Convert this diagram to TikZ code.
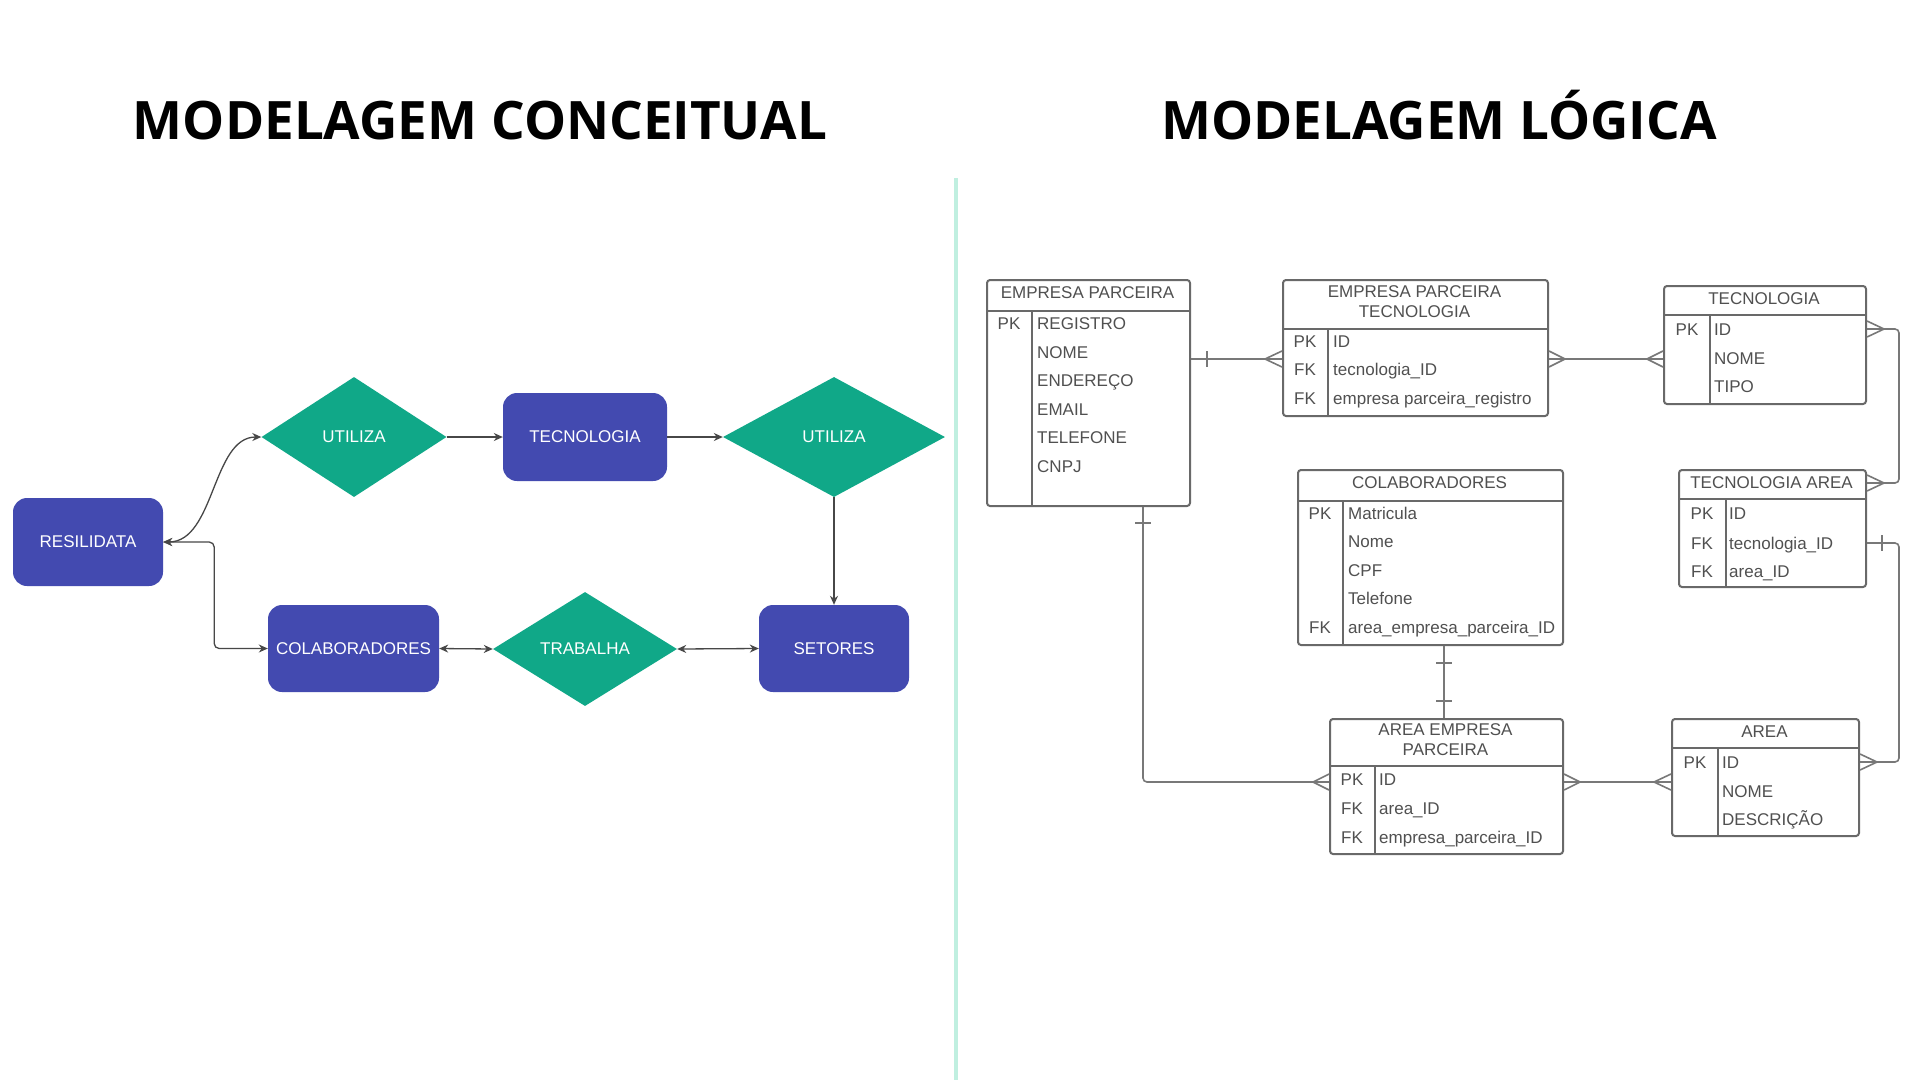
\documentclass[tikz,border=0pt]{standalone}
\usepackage{fontspec}
\setmainfont{Liberation Sans}
\newfontfamily\titlefont{Open Sans}
\usetikzlibrary{shapes.geometric,arrows.meta,calc}
\definecolor{ind}{RGB}{67,74,176}
\definecolor{tealg}{RGB}{16,168,136}
\definecolor{mint}{RGB}{192,239,224}
\definecolor{tgray}{RGB}{80,80,80}
\definecolor{lgray}{RGB}{105,105,105}
\definecolor{cgray}{RGB}{120,120,120}
\begin{document}
\begin{tikzpicture}[x=1pt,y=-1pt,
  title/.style={font=\titlefont\bfseries\fontsize{53}{60}\selectfont, text=black, inner sep=0pt, anchor=base},
  ent/.style={rectangle, rounded corners=14pt, fill=ind, text=white, font=\fontsize{17}{20}\selectfont, inner sep=0pt},
  rel/.style={diamond, fill=tealg, text=white, font=\fontsize{17}{20}\selectfont, inner sep=0pt},
  arr/.style={draw=black!72, line width=1.3pt, -{Stealth[length=9pt,width=8pt]}},
  arrb/.style={draw=black!72, line width=1.3pt, {Stealth[length=9pt,width=8pt]}-{Stealth[length=9pt,width=8pt]}},
  tbl/.style={draw=lgray, line width=2pt, rounded corners=3pt, inner sep=0pt, anchor=north west},
  tl/.style={draw=lgray, line width=2pt},
  th/.style={text=tgray, font=\fontsize{17}{20}\selectfont, inner sep=0pt, align=center, anchor=center},
  tk/.style={text=tgray, font=\fontsize{17}{20}\selectfont, inner sep=0pt, text height=12.2pt, text depth=0pt, anchor=center},
  tf/.style={text=tgray, font=\fontsize{17}{20}\selectfont, inner sep=0pt, text height=12.2pt, text depth=0pt, anchor=west},
  con/.style={draw=cgray, line width=1.6pt}
]
\useasboundingbox (0,0) rectangle (1920,1080);
\fill[white] (0,0) rectangle (1920,1080);

% titles
\node[title] (t1) at (480,139) {MODELAGEM CONCEITUAL};
\node[title] (t2) at (1439,139) {MODELAGEM LÓGICA};

% divider
\draw[mint, line width=4pt] (956,178) -- (956,1080);

% ---------------- conceptual model ----------------
\node[ent, minimum width=150pt, minimum height=88pt] (res) at (88,542) {RESILIDATA};
\node[rel, minimum width=185pt, minimum height=120pt] (ut1) at (354,437) {UTILIZA};
\node[ent, minimum width=164pt, minimum height=88pt] (tec) at (585,437) {TECNOLOGIA};
\node[rel, minimum width=222pt, minimum height=120pt] (ut2) at (834,437) {UTILIZA};
\node[ent, minimum width=171pt, minimum height=87pt] (col) at (353.5,648.5) {COLABORADORES};
\node[rel, minimum width=184pt, minimum height=114pt] (tra) at (585,649) {TRABALHA};
\node[ent, minimum width=150pt, minimum height=87pt] (set) at (834,648.5) {SETORES};

\draw[arrb] (res.east) .. controls (215,542) and (212,437) .. (ut1.west);
\draw[arrb, rounded corners=5pt] (res.east) -- ++(51,0) |- (col.west);
\draw[arr] (ut1.east) -- (tec.west);
\draw[arr] (tec.east) -- (ut2.west);
\draw[arr] (ut2.south) -- (set.north);
\draw[arrb] (col.east) -- (tra.west);
\draw[arrb] (tra.east) -- (set.west);

% ---------------- logical model ----------------
% EMPRESA PARCEIRA
\node[tbl, minimum width=203pt, minimum height=226pt] (ep) at (986,279) {};
\draw[tl] (986,311) -- (1189,311);
\draw[tl] (1032,311) -- (1032,505);
\node[th] (ep-h) at (1087.5,293) {EMPRESA PARCEIRA};
\node[tk] (ep-k1) at (1009,323) {PK};
\node[tf] (ep-f1) at (1037,323) {REGISTRO};
\node[tf] (ep-f2) at (1037,352) {NOME};
\node[tf] (ep-f3) at (1037,380) {ENDEREÇO};
\node[tf] (ep-f4) at (1037,409) {EMAIL};
\node[tf] (ep-f5) at (1037,437) {TELEFONE};
\node[tf] (ep-f6) at (1037,466) {CNPJ};

% EMPRESA PARCEIRA TECNOLOGIA
\node[tbl, minimum width=265pt, minimum height=136pt] (ept) at (1282,279) {};
\draw[tl] (1282,329) -- (1547,329);
\draw[tl] (1328,329) -- (1328,415);
\node[th] (ept-h) at (1414.5,302) {EMPRESA PARCEIRA\\TECNOLOGIA};
\node[tk] (ept-k1) at (1305,341) {PK};
\node[tk] (ept-k2) at (1305,369) {FK};
\node[tk] (ept-k3) at (1305,398) {FK};
\node[tf] (ept-f1) at (1333,341) {ID};
\node[tf] (ept-f2) at (1333,369) {tecnologia\_ID};
\node[tf] (ept-f3) at (1333,398) {empresa parceira\_registro};

% TECNOLOGIA
\node[tbl, minimum width=202pt, minimum height=118pt] (tb) at (1663,285) {};
\draw[tl] (1663,315) -- (1865,315);
\draw[tl] (1710,315) -- (1710,403);
\node[th] (tb-h) at (1764,299) {TECNOLOGIA};
\node[tk] (tb-k1) at (1687,329) {PK};
\node[tf] (tb-f1) at (1714,329) {ID};
\node[tf] (tb-f2) at (1714,358) {NOME};
\node[tf] (tb-f3) at (1714,386) {TIPO};

% TECNOLOGIA AREA
\node[tbl, minimum width=187pt, minimum height=117pt] (ta) at (1678,469) {};
\draw[tl] (1678,499) -- (1865,499);
\draw[tl] (1726,499) -- (1726,586);
\node[th] (ta-h) at (1771.5,483) {TECNOLOGIA AREA};
\node[tk] (ta-k1) at (1702,513) {PK};
\node[tk] (ta-k2) at (1702,543) {FK};
\node[tk] (ta-k3) at (1702,571) {FK};
\node[tf] (ta-f1) at (1729,513) {ID};
\node[tf] (ta-f2) at (1729,543) {tecnologia\_ID};
\node[tf] (ta-f3) at (1729,571) {area\_ID};

% COLABORADORES
\node[tbl, minimum width=265pt, minimum height=175pt] (cb) at (1297,469) {};
\draw[tl] (1297,501) -- (1562,501);
\draw[tl] (1343,501) -- (1343,644);
\node[th] (cb-h) at (1429.5,483) {COLABORADORES};
\node[tk] (cb-k1) at (1320,513) {PK};
\node[tk] (cb-k5) at (1320,627) {FK};
\node[tf] (cb-f1) at (1348,513) {Matricula};
\node[tf] (cb-f2) at (1348,541) {Nome};
\node[tf] (cb-f3) at (1348,570) {CPF};
\node[tf] (cb-f4) at (1348,598) {Telefone};
\node[tf] (cb-f5) at (1348,627) {area\_empresa\_parceira\_ID};

% AREA EMPRESA PARCEIRA
\node[tbl, minimum width=233pt, minimum height=135pt] (aep) at (1329,718) {};
\draw[tl] (1329,766) -- (1562,766);
\draw[tl] (1375,766) -- (1375,853);
\node[th] (aep-h) at (1445.5,740) {AREA EMPRESA\\PARCEIRA};
\node[tk] (aep-k1) at (1352,779) {PK};
\node[tk] (aep-k2) at (1352,808) {FK};
\node[tk] (aep-k3) at (1352,837) {FK};
\node[tf] (aep-f1) at (1379,779) {ID};
\node[tf] (aep-f2) at (1379,808) {area\_ID};
\node[tf] (aep-f3) at (1379,837) {empresa\_parceira\_ID};

% AREA
\node[tbl, minimum width=187pt, minimum height=117pt] (ar) at (1671,718) {};
\draw[tl] (1671,748) -- (1858,748);
\draw[tl] (1718,748) -- (1718,835);
\node[th] (ar-h) at (1764.5,732) {AREA};
\node[tk] (ar-k1) at (1695,762) {PK};
\node[tf] (ar-f1) at (1722,762) {ID};
\node[tf] (ar-f2) at (1722,791) {NOME};
\node[tf] (ar-f3) at (1722,819) {DESCRIÇÃO};

% ---------------- relationships ----------------
% EP -- EPT
\draw[con] ($(ep.north east)+(0,80)$) -- ($(ept.north west)+(0,80)$);
\draw[con] ($(ep.north east)+(16,72)$) -- ++(0,16);
\draw[con] ($(ept.north west)+(0,72)$) -- ++(-17,8) -- ++(17,8);

% EPT -- TECNOLOGIA
\draw[con] ($(ept.north east)+(0,80)$) -- ($(tb.north west)+(0,74)$);
\draw[con] ($(ept.north east)+(0,72)$) -- ++(16,8) -- ++(-16,8);
\draw[con] ($(tb.north west)+(0,66)$) -- ++(-16,8) -- ++(16,8);

% TECNOLOGIA -- TECNOLOGIA AREA
\draw[con, rounded corners=4pt] ($(tb.north east)+(0,44)$) -- ++(32,0) |- ($(ta.north east)+(0,14)$);
\draw[con] ($(tb.north east)+(0,36)$) -- ++(17,8) -- ++(-17,8);
\draw[con] ($(ta.north east)+(0,6)$) -- ++(17,8) -- ++(-17,8);

% TECNOLOGIA AREA -- AREA
\draw[con, rounded corners=4pt] ($(ta.north east)+(0,74)$) -- ++(32,0) |- ($(ar.north east)+(0,44)$);
\draw[con] ($(ta.north east)+(15,66)$) -- ++(0,16);
\draw[con] ($(ar.north east)+(0,36)$) -- ++(17,8) -- ++(-17,8);

% COLABORADORES -- AREA EMPRESA PARCEIRA
\draw[con] ($(cb.south west)+(147,0)$) -- ($(aep.north west)+(115,0)$);
\draw[con] ($(cb.south west)+(139,17)$) -- ++(16,0);
\draw[con] ($(aep.north west)+(107,-17)$) -- ++(16,0);

% EMPRESA PARCEIRA -- AREA EMPRESA PARCEIRA
\draw[con, rounded corners=4pt] ($(ep.south west)+(157,0)$) |- ($(aep.north west)+(0,64)$);
\draw[con] ($(ep.south west)+(149,16)$) -- ++(16,0);
\draw[con] ($(aep.north west)+(0,56)$) -- ++(-16,8) -- ++(16,8);

% AREA EMPRESA PARCEIRA -- AREA
\draw[con] ($(aep.north east)+(0,64)$) -- ($(ar.north west)+(0,64)$);
\draw[con] ($(aep.north east)+(0,56)$) -- ++(16,8) -- ++(-16,8);
\draw[con] ($(ar.north west)+(0,56)$) -- ++(-17,8) -- ++(17,8);
\end{tikzpicture}
\end{document}
